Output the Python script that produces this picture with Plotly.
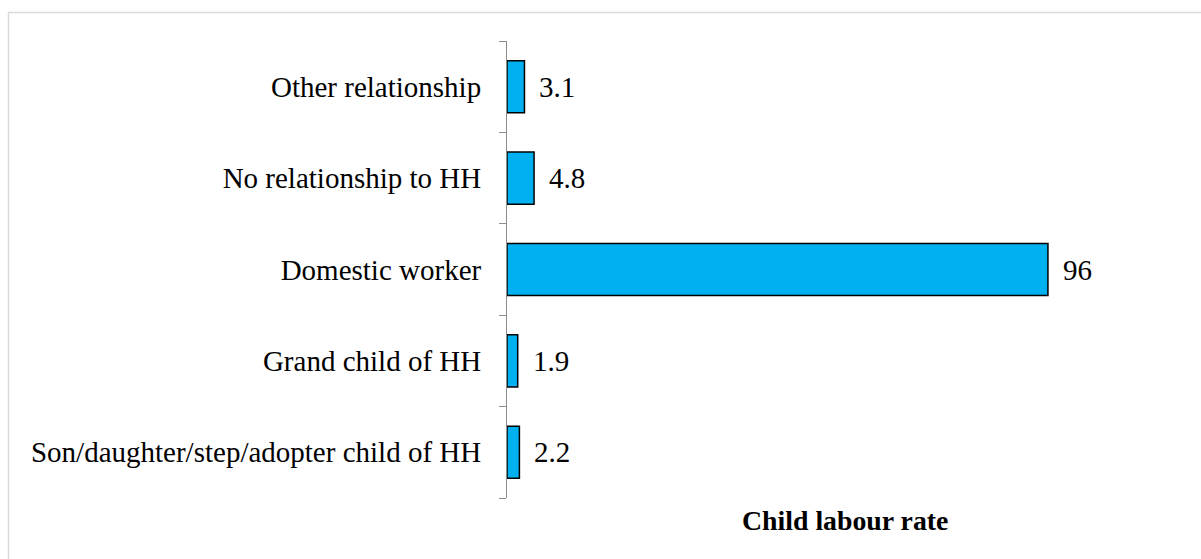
import plotly.graph_objects as go

# Child labour rate by relationship to head of household (HH)
categories = [
    "Son/daughter/step/adopter child of HH",
    "Grand child of HH",
    "Domestic worker",
    "No relationship to HH",
    "Other relationship",
]
rates = [2.2, 1.9, 96, 4.8, 3.1]
axis_title = "Child labour rate"

W, H = 1201, 559
ML, MR, MT, MB = 507, 46, 41, 61
X_MAX = 115
FONT = "Liberation Serif"
FS = 29

plot_w = W - ML - MR
plot_h = H - MT - MB


def px_to_paper_x(px):
    return (px - ML) / plot_w


def px_to_paper_y(py):
    return (H - MB - py) / plot_h


fig = go.Figure(
    go.Bar(
        y=categories,
        x=rates,
        orientation="h",
        marker=dict(color="#00B0F0", line=dict(color="#000000", width=1.5)),
        hoverinfo="skip",
    )
)

# value labels to the right of each bar
for cat, val in zip(categories, rates):
    fig.add_annotation(
        x=val, y=cat, xref="x", yref="y",
        text=f"{val:g}", showarrow=False,
        xanchor="left", xshift=13,
        font=dict(family=FONT, size=FS, color="#000000"),
    )

# axis title below the plot
fig.add_annotation(
    x=px_to_paper_x(844.5), y=px_to_paper_y(520), xref="paper", yref="paper",
    text=f"<b>{axis_title}</b>", showarrow=False,
    xanchor="center", yanchor="middle",
    font=dict(family=FONT, size=27.8, color="#000000"),
)

# chart frame (top and left edges)
frame = dict(color="#d9d9d9", width=1.5)
fig.add_shape(type="line", xref="paper", yref="paper",
              x0=px_to_paper_x(8), x1=px_to_paper_x(W + 5),
              y0=px_to_paper_y(12.5), y1=px_to_paper_y(12.5), line=frame)
fig.add_shape(type="line", xref="paper", yref="paper",
              x0=px_to_paper_x(8.5), x1=px_to_paper_x(8.5),
              y0=px_to_paper_y(12.5), y1=px_to_paper_y(H + 5), line=frame)

fig.update_layout(
    width=W, height=H,
    margin=dict(l=ML, r=MR, t=MT, b=MB, pad=0),
    paper_bgcolor="#ffffff", plot_bgcolor="#ffffff",
    bargap=0.43,
    showlegend=False,
    font=dict(family=FONT, size=FS, color="#000000"),
)
fig.update_xaxes(range=[0, X_MAX], visible=False, fixedrange=True)
fig.update_yaxes(
    type="category",
    showline=True, linecolor="#8c8c8c", linewidth=1,
    ticks="outside", ticklen=7, tickcolor="#8c8c8c", tickwidth=1,
    tickson="boundaries",
    ticklabelstandoff=19,
    showgrid=False, zeroline=False, fixedrange=True,
    tickfont=dict(family=FONT, size=FS, color="#000000"),
)

fig.write_html("out.html", config={"displayModeBar": False})
